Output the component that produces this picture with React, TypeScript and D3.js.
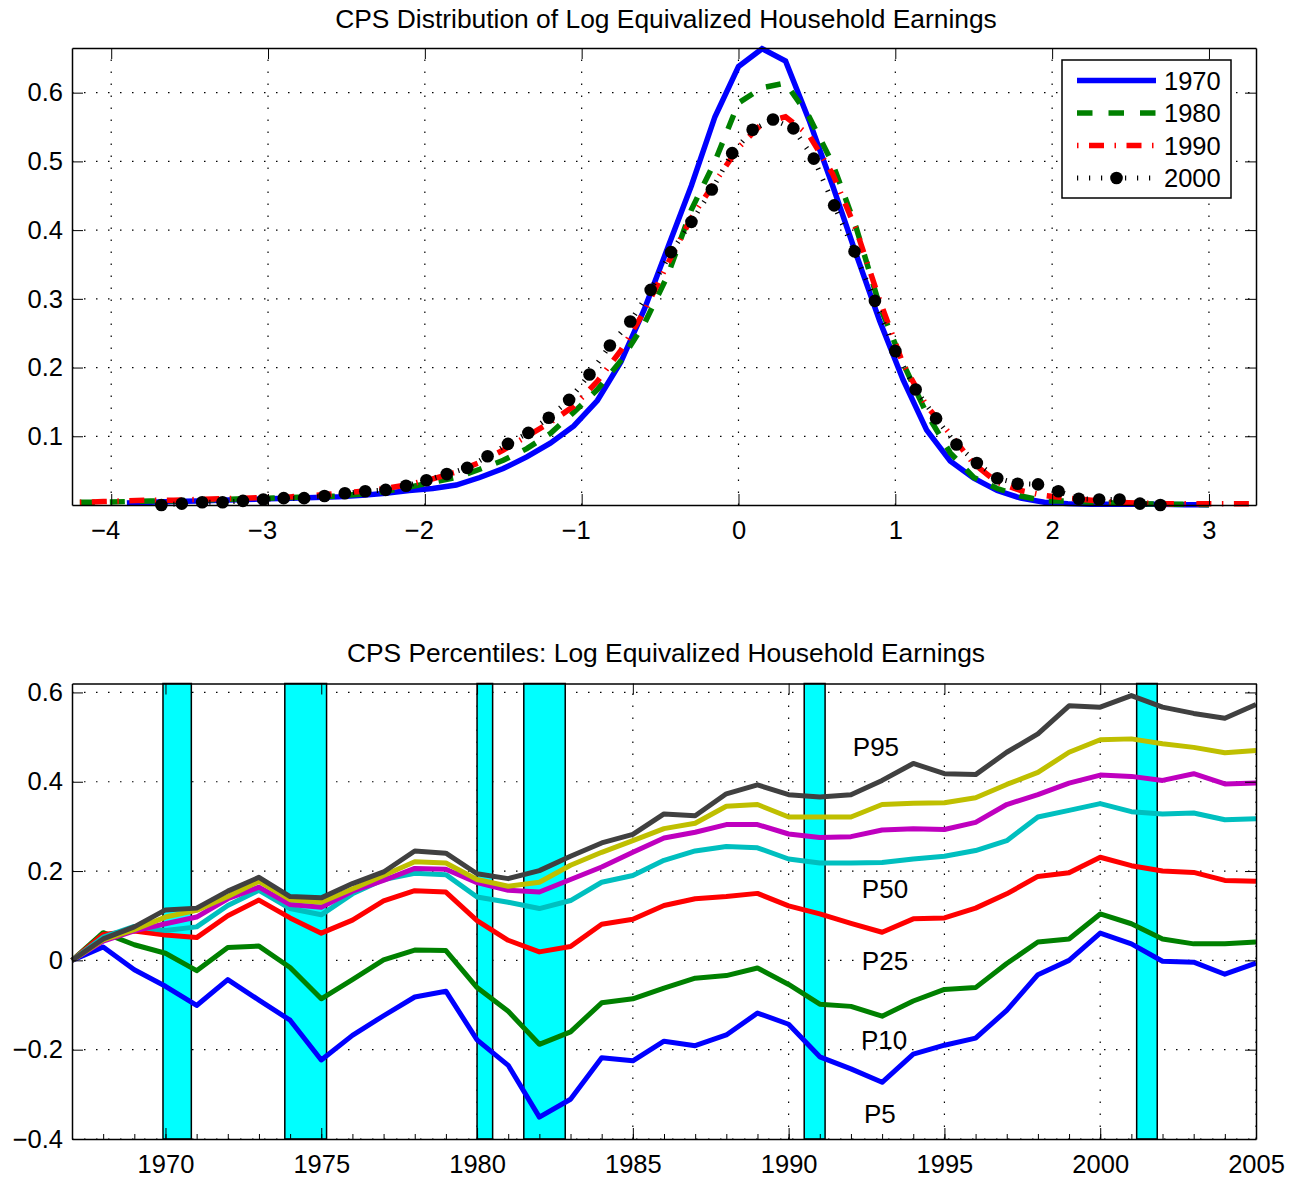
import * as d3 from "d3";
import { useEffect, useRef } from "react";

const FONT = "'Liberation Sans', Arial, Helvetica, sans-serif";

// ---------- top panel: density of log equivalized household earnings ----------
const densX = [
  -4.2, -4.05, -3.9, -3.75, -3.6, -3.45, -3.3, -3.15, -3.0, -2.85, -2.7, -2.55, -2.4,
  -2.25, -2.1, -1.95, -1.8, -1.65, -1.5, -1.35, -1.2, -1.05, -0.9, -0.75, -0.6, -0.45,
  -0.3, -0.15, 0, 0.15, 0.3, 0.45, 0.6, 0.75, 0.9, 1.05, 1.2, 1.35, 1.5, 1.65, 1.8,
  1.95, 2.1, 2.25, 2.4, 2.55, 2.7, 2.85, 3.0, 3.15, 3.3,
];
const dens1970 = [
  null, null, 0.003, 0.004, 0.005, 0.006, 0.007, 0.008, 0.009, 0.01, 0.011, 0.012, 0.014,
  0.017, 0.021, 0.024, 0.029, 0.04, 0.053, 0.07, 0.09, 0.115, 0.152, 0.208, 0.285, 0.375,
  0.465, 0.565, 0.638, 0.664, 0.646, 0.56, 0.465, 0.365, 0.268, 0.182, 0.109, 0.064, 0.039,
  0.021, 0.01, 0.004, 0.002, 0.001, 0.001, 0.001, 0.001, 0.0005, 0.0003, null, null,
];
const dens1980 = [
  0.004, 0.004, 0.005, 0.006, 0.006, 0.007, 0.008, 0.009, 0.01, 0.011, 0.012, 0.013, 0.016,
  0.02, 0.026, 0.033, 0.04, 0.052, 0.065, 0.082, 0.104, 0.135, 0.168, 0.21, 0.264, 0.335,
  0.43, 0.5, 0.585, 0.607, 0.614, 0.565, 0.497, 0.404, 0.29, 0.206, 0.133, 0.076, 0.04,
  0.024, 0.013, 0.006, 0.006, 0.004, 0.003, 0.002, 0.001, 0.001, 0.0005, null, null,
];
const dens1990 = [
  0.004, 0.005, 0.006, 0.007, 0.007, 0.008, 0.009, 0.01, 0.011, 0.012, 0.014, 0.017, 0.02,
  0.024, 0.03, 0.038, 0.048, 0.062, 0.08, 0.1, 0.12, 0.144, 0.18, 0.225, 0.282, 0.352,
  0.418, 0.47, 0.52, 0.555, 0.565, 0.538, 0.482, 0.401, 0.298, 0.205, 0.144, 0.103, 0.06,
  0.033, 0.021, 0.014, 0.01, 0.007, 0.004, 0.003, 0.002, 0.002, 0.002, 0.002, 0.002,
];
const markX = [
  -3.68, -3.55, -3.42, -3.29, -3.16, -3.03, -2.9, -2.77, -2.64, -2.51, -2.38, -2.25, -2.12,
  -1.99, -1.86, -1.73, -1.6, -1.47, -1.34, -1.21, -1.08, -0.95, -0.82, -0.69, -0.56, -0.43,
  -0.3, -0.17, -0.04, 0.09, 0.22, 0.35, 0.48, 0.61, 0.74, 0.87, 1.0, 1.13, 1.26, 1.39,
  1.52, 1.65, 1.78, 1.91, 2.04, 2.17, 2.3, 2.43, 2.56, 2.69,
];
const dens2000 = [
  0.0, 0.002, 0.004, 0.004, 0.006, 0.008, 0.01, 0.01, 0.013, 0.017, 0.02, 0.022, 0.028,
  0.036, 0.045, 0.054, 0.071, 0.089, 0.105, 0.127, 0.153, 0.19, 0.232, 0.267, 0.313, 0.368,
  0.412, 0.459, 0.512, 0.546, 0.561, 0.548, 0.504, 0.436, 0.369, 0.297, 0.224, 0.168, 0.126,
  0.088, 0.061, 0.039, 0.031, 0.03, 0.02, 0.009, 0.008, 0.008, 0.002, 0.0,
];
const densXTicks = [-4, -3, -2, -1, 0, 1, 2, 3];
const densYTicks = [0.1, 0.2, 0.3, 0.4, 0.5, 0.6];

// ---------- bottom panel: percentiles relative to 1967 ----------
const years = [
  1967, 1968, 1969, 1970, 1971, 1972, 1973, 1974, 1975, 1976, 1977, 1978, 1979, 1980,
  1981, 1982, 1983, 1984, 1985, 1986, 1987, 1988, 1989, 1990, 1991, 1992, 1993, 1994,
  1995, 1996, 1997, 1998, 1999, 2000, 2001, 2002, 2003, 2004, 2005,
];
const p5 = [
  0, 0.03, -0.021, -0.058, -0.101, -0.043, -0.089, -0.134, -0.223, -0.168, -0.124, -0.082,
  -0.069, -0.178, -0.235, -0.351, -0.311, -0.218, -0.225, -0.181, -0.191, -0.167, -0.118,
  -0.143, -0.216, -0.243, -0.273, -0.21, -0.19, -0.174, -0.112, -0.032, 0.0, 0.061, 0.037,
  -0.002, -0.004, -0.031, -0.006,
];
const p10 = [
  0, 0.062, 0.035, 0.016, -0.023, 0.029, 0.032, -0.016, -0.086, -0.043, 0.001, 0.023, 0.022,
  -0.061, -0.114, -0.188, -0.16, -0.095, -0.086, -0.062, -0.04, -0.034, -0.017, -0.054,
  -0.098, -0.103, -0.125, -0.091, -0.065, -0.061, -0.007, 0.041, 0.048, 0.104, 0.082,
  0.048, 0.037, 0.037, 0.041,
];
const p25 = [
  0, 0.058, 0.066, 0.057, 0.051, 0.1, 0.135, 0.095, 0.061, 0.09, 0.133, 0.156, 0.153, 0.089,
  0.045, 0.019, 0.031, 0.081, 0.092, 0.123, 0.138, 0.143, 0.15, 0.122, 0.104, 0.083, 0.063,
  0.093, 0.095, 0.117, 0.149, 0.188, 0.196, 0.231, 0.212, 0.2, 0.197, 0.179, 0.177,
];
const p50 = [
  0, 0.052, 0.076, 0.067, 0.075, 0.123, 0.157, 0.116, 0.102, 0.149, 0.181, 0.195, 0.192,
  0.142, 0.13, 0.116, 0.134, 0.175, 0.19, 0.224, 0.245, 0.255, 0.252, 0.227, 0.218, 0.218,
  0.219, 0.227, 0.233, 0.246, 0.268, 0.321, 0.336, 0.351, 0.333, 0.328, 0.33, 0.315, 0.317,
];
const p75 = [
  0, 0.043, 0.066, 0.082, 0.097, 0.138, 0.164, 0.125, 0.119, 0.155, 0.179, 0.206, 0.204,
  0.174, 0.157, 0.153, 0.181, 0.209, 0.242, 0.274, 0.287, 0.304, 0.304, 0.283, 0.275, 0.277,
  0.292, 0.295, 0.293, 0.309, 0.349, 0.371, 0.397, 0.415, 0.412, 0.403, 0.418, 0.395, 0.397,
];
const p90 = [
  0, 0.046, 0.069, 0.097, 0.112, 0.143, 0.177, 0.136, 0.13, 0.16, 0.19, 0.221, 0.218, 0.181,
  0.166, 0.175, 0.213, 0.242, 0.268, 0.295, 0.307, 0.345, 0.349, 0.321, 0.321, 0.321, 0.349,
  0.352, 0.353, 0.364, 0.394, 0.421, 0.466, 0.494, 0.496, 0.485, 0.477, 0.465, 0.47,
];
const p95 = [
  0, 0.048, 0.075, 0.113, 0.117, 0.155, 0.186, 0.143, 0.14, 0.172, 0.198, 0.245, 0.24, 0.194,
  0.183, 0.201, 0.233, 0.263, 0.282, 0.328, 0.324, 0.373, 0.393, 0.371, 0.366, 0.371, 0.403,
  0.441, 0.418, 0.416, 0.466, 0.507, 0.57, 0.567, 0.593, 0.567, 0.553, 0.542, 0.573,
];
// NBER recessions (fractional years)
const recessions = [
  [1969.92, 1970.83],
  [1973.83, 1975.17],
  [1980.0, 1980.5],
  [1981.5, 1982.83],
  [1990.5, 1991.17],
  [2001.17, 2001.83],
];
const yearTicks = [1970, 1975, 1980, 1985, 1990, 1995, 2000, 2005];
const pctYTicks = [-0.4, -0.2, 0, 0.2, 0.4, 0.6];

type Sel = d3.Selection<any, unknown, null, undefined>;

function frame(
  g: Sel,
  x: d3.ScaleLinear<number, number>,
  y: d3.ScaleLinear<number, number>,
  xTicks: number[],
  yTicks: number[],
  fx: (d: number) => string,
  fy: (d: number) => string
) {
  const [x0, x1] = x.range();
  const [y0, y1] = y.range();
  const axes = g.append("g");
  const styleAxis = (a: Sel) => {
    a.attr("font-family", FONT).attr("font-size", 25.5);
    a.selectAll(".domain").attr("stroke", "#000").attr("stroke-width", 1.5);
    a.selectAll(".tick line").attr("stroke", "#000").attr("stroke-width", 1);
    a.selectAll(".tick text").attr("fill", "#000");
  };
  axes
    .append("g")
    .attr("transform", `translate(0,${y0})`)
    .call(d3.axisBottom(x).tickValues(xTicks).tickFormat(fx as any).tickSizeInner(-11).tickSizeOuter(0).tickPadding(16))
    .call(styleAxis)
    .call((a) => a.selectAll(".tick text").attr("dx", (d: any) => (d < 0 ? -6 : 0)));
  axes
    .append("g")
    .attr("transform", `translate(0,${y1})`)
    .call(d3.axisTop(x).tickValues(xTicks).tickFormat(() => "").tickSizeInner(-11).tickSizeOuter(0))
    .call(styleAxis);
  axes
    .append("g")
    .attr("transform", `translate(${x0},0)`)
    .call(d3.axisLeft(y).tickValues(yTicks).tickFormat(fy as any).tickSizeInner(-11).tickSizeOuter(0).tickPadding(9))
    .call(styleAxis);
  axes
    .append("g")
    .attr("transform", `translate(${x1},0)`)
    .call(d3.axisRight(y).tickValues(yTicks).tickFormat(() => "").tickSizeInner(-11).tickSizeOuter(0))
    .call(styleAxis);
  return axes;
}

function grid(g: Sel, x: d3.ScaleLinear<number, number>, y: d3.ScaleLinear<number, number>, xTicks: number[], yTicks: number[]) {
  const [x0, x1] = x.range();
  const [y0, y1] = y.range();
  const gg = g.append("g").attr("stroke", "#000").attr("stroke-width", 1.2).attr("stroke-dasharray", "1.5 10.5");
  gg.selectAll("line.v")
    .data(xTicks)
    .join("line")
    .attr("x1", (d) => x(d))
    .attr("x2", (d) => x(d))
    .attr("y1", y0)
    .attr("y2", y1);
  gg.selectAll("line.h")
    .data(yTicks)
    .join("line")
    .attr("class", "h")
    .attr("x1", x0)
    .attr("x2", x1)
    .attr("y1", (d) => y(d))
    .attr("y2", (d) => y(d));
}

function drawDensity(svg: Sel) {
  const x = d3.scaleLinear().domain([-4.25, 3.3]).range([72, 1256]);
  const y = d3.scaleLinear().domain([0, 0.665]).range([505, 48]);
  const g = svg.append("g");

  g.append("text")
    .attr("x", 666)
    .attr("y", 28)
    .attr("text-anchor", "middle")
    .attr("font-family", FONT)
    .attr("font-size", 26.4)
    .text("CPS Distribution of Log Equivalized Household Earnings");

  grid(g, x, y, densXTicks, densYTicks);

  const line = d3
    .line<number | null>()
    .defined((d) => d != null)
    .x((_, i) => x(densX[i]))
    .y((d) => y(d as number));

  const series = [
    { data: dens1970, color: "#0000ff", dash: null },
    { data: dens1980, color: "#008000", dash: "15 15" },
    { data: dens1990, color: "#ff0000", dash: "1.5 10.5 15 10.5" },
  ];
  series.forEach((s) => {
    g.append("path")
      .attr("d", line(s.data))
      .attr("fill", "none")
      .attr("stroke", s.color)
      .attr("stroke-width", 5.5)
      .attr("stroke-dasharray", s.dash);
  });

  const line2000 = d3
    .line<number>()
    .x((_, i) => x(markX[i]))
    .y((d) => y(d));
  g.append("path")
    .attr("d", line2000(dens2000))
    .attr("fill", "none")
    .attr("stroke", "#000")
    .attr("stroke-width", 5)
    .attr("stroke-dasharray", "1.2 10.8");
  g.append("g")
    .selectAll("circle")
    .data(dens2000)
    .join("circle")
    .attr("cx", (_, i) => x(markX[i]))
    .attr("cy", (d) => y(d))
    .attr("r", 6.3)
    .attr("fill", "#000");

  frame(g, x, y, densXTicks, densYTicks, d3.format("d"), d3.format(".1f"));

  // legend
  const lg = g.append("g").attr("font-family", FONT).attr("font-size", 25.5);
  lg.append("rect")
    .attr("x", 1062)
    .attr("y", 60)
    .attr("width", 169)
    .attr("height", 138)
    .attr("fill", "#fff")
    .attr("stroke", "#000")
    .attr("stroke-width", 1.5);
  const legendItems = [
    { label: "1970", color: "#0000ff", dash: null, width: 5.5 },
    { label: "1980", color: "#008000", dash: "15.5 16", width: 5.5 },
    { label: "1990", color: "#ff0000", dash: "1.5 10.5 15 10.5", width: 5.5 },
    { label: "2000", color: "#000", dash: "1.2 10.8", width: 5 },
  ];
  legendItems.forEach((it, i) => {
    const cy = 80.5 + i * 32.5;
    lg.append("line")
      .attr("x1", 1077)
      .attr("x2", 1156)
      .attr("y1", cy)
      .attr("y2", cy)
      .attr("stroke", it.color)
      .attr("stroke-width", it.width)
      .attr("stroke-dasharray", it.dash);
    if (it.label === "2000") {
      lg.append("circle").attr("cx", 1116.5).attr("cy", cy).attr("r", 6.3).attr("fill", "#000");
    }
    lg.append("text").attr("x", 1164).attr("y", cy + 9).text(it.label);
  });
}

function drawPercentiles(svg: Sel) {
  const x = d3.scaleLinear().domain([1967, 2005]).range([72, 1256]);
  const y = d3.scaleLinear().domain([-0.4, 0.62]).range([1139, 683.5]);
  const g = svg.append("g");

  g.append("text")
    .attr("x", 666)
    .attr("y", 662)
    .attr("text-anchor", "middle")
    .attr("font-family", FONT)
    .attr("font-size", 26.4)
    .text("CPS Percentiles: Log Equivalized Household Earnings");

  grid(g, x, y, yearTicks, pctYTicks);

  g.append("g")
    .selectAll("rect")
    .data(recessions)
    .join("rect")
    .attr("x", (d) => x(d[0]))
    .attr("width", (d) => x(d[1]) - x(d[0]))
    .attr("y", y(0.62))
    .attr("height", y(-0.4) - y(0.62))
    .attr("fill", "#00ffff")
    .attr("stroke", "#000")
    .attr("stroke-width", 1.5);

  const line = d3
    .line<number>()
    .x((_, i) => x(years[i]))
    .y((d) => y(d));
  const series = [
    { data: p5, color: "#0000ff" },
    { data: p10, color: "#008000" },
    { data: p25, color: "#ff0000" },
    { data: p50, color: "#00bfbf" },
    { data: p75, color: "#bf00bf" },
    { data: p90, color: "#bfbf00" },
    { data: p95, color: "#404040" },
  ];
  series.forEach((s) => {
    g.append("path")
      .attr("d", line(s.data))
      .attr("fill", "none")
      .attr("stroke", s.color)
      .attr("stroke-width", 5)
      .attr("stroke-linejoin", "round");
  });

  const fy = (d: number) => (d === 0 ? "0" : d3.format(".1f")(d));
  frame(g, x, y, yearTicks, pctYTicks, d3.format("d"), fy);

  // yearly minor ticks on the bottom edge
  g.append("g")
    .attr("transform", `translate(0,${y(-0.4)})`)
    .call(d3.axisBottom(x).tickValues(years).tickFormat(() => "").tickSizeInner(-5).tickSizeOuter(0))
    .call((a) => a.select(".domain").remove())
    .call((a) => a.selectAll(".tick line").attr("stroke", "#000"));

  const labels = [
    { t: "P95", yr: 1992.06, v: 0.457 },
    { t: "P50", yr: 1992.35, v: 0.139 },
    { t: "P25", yr: 1992.35, v: -0.021 },
    { t: "P10", yr: 1992.32, v: -0.198 },
    { t: "P5", yr: 1992.42, v: -0.365 },
  ];
  g.append("g")
    .attr("font-family", FONT)
    .attr("font-size", 26)
    .selectAll("text")
    .data(labels)
    .join("text")
    .attr("x", (d) => x(d.yr))
    .attr("y", (d) => y(d.v))
    .text((d) => d.t);
}

export default function App() {
  const ref = useRef<SVGSVGElement>(null);

  useEffect(() => {
    const svg = d3.select(ref.current) as unknown as Sel;
    svg.selectAll("*").remove();
    svg.append("rect").attr("width", 1300).attr("height", 1182).attr("fill", "#fff");
    drawDensity(svg);
    drawPercentiles(svg);
  }, []);

  return (
    <svg
      ref={ref}
      width={1300}
      height={1182}
      style={{ position: "absolute", left: 0, top: 0, display: "block" }}
    />
  );
}
